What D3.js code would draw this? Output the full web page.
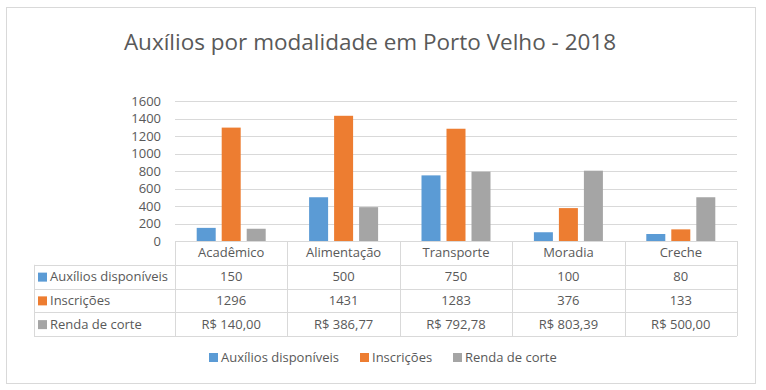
<!DOCTYPE html>
<html>
<head>
<meta charset="utf-8">
<script src="https://cdn.jsdelivr.net/npm/d3@7"></script>
<style>
  body { margin: 0; background: #fff; }
  text { font-family: "Open Sans", sans-serif; fill: #595959; }
</style>
</head>
<body>
<div id="chart"></div>
<script>
var width = 766
var height = 390

var categories = ["Acadêmico", "Alimentação", "Transporte", "Moradia", "Creche"]
var seriesNames = ["Auxílios disponíveis", "Inscrições", "Renda de corte"]
var auxilios = [150, 500, 750, 100, 80]
var inscricoes = [1296, 1431, 1283, 376, 133]
var rendaCorte = [140.00, 386.77, 792.78, 803.39, 500.00]
var yTicks = [0, 200, 400, 600, 800, 1000, 1200, 1400, 1600]

var colors = ["#5B9BD5", "#ED7D31", "#A5A5A5"]
var gridColor = "#D9D9D9"

var seriesValues = [auxilios, inscricoes, rendaCorte]

function fmtCell(s, v) {
    if (s === 2) {
        return "R$ " + v.toFixed(2).replace(".", ",")
    }
    return String(v)
}

var svg = d3.select('#chart')
    .append('svg')
    .attr('width', width)
    .attr('height', height)

// outer frame
svg.append('rect')
    .attr('x', 6.5)
    .attr('y', 7.5)
    .attr('width', 749)
    .attr('height', 376)
    .attr('fill', 'white')
    .attr('stroke', gridColor)

svg.append('text')
    .attr('x', 370)
    .attr('y', 50)
    .attr('text-anchor', 'middle')
    .style('font-size', '22.5px')
    .text("Auxílios por modalidade em Porto Velho - 2018")

var x0 = d3.scaleBand()
    .domain(categories)
    .range([175, 737])

var x1 = d3.scaleBand()
    .domain(seriesNames)
    .range([-34.5, 34.5])
    .paddingInner(0.24)

var y = d3.scaleLinear()
    .domain([0, 1600])
    .range([241, 101])

// gridlines
svg.append('g')
    .selectAll('line')
    .data(yTicks)
    .enter()
    .append('line')
    .attr('x1', 175)
    .attr('x2', 737)
    .attr('y1', function (d) { return Math.round(y(d)) + 0.5 })
    .attr('y2', function (d) { return Math.round(y(d)) + 0.5 })
    .attr('stroke', gridColor)

var yAxis = svg.append('g')
    .attr('transform', 'translate(161,0)')
    .call(d3.axisLeft(y).tickValues(yTicks).tickFormat(d3.format("d")).tickSize(0).tickPadding(0))
yAxis.select('.domain').remove()
yAxis.selectAll('text')
    .style('font-size', '13px')
    .attr('fill', '#595959')
    .style('font-family', '"Open Sans", sans-serif')

// bars
var groups = svg.append('g')
    .selectAll('g')
    .data(categories)
    .enter()
    .append('g')
    .attr('transform', function (d) { return 'translate(' + (x0(d) + x0.bandwidth() / 2) + ',0)' })

groups.selectAll('rect')
    .data(function (d, i) {
        return seriesNames.map(function (s, j) { return { s: s, j: j, v: seriesValues[j][i] } })
    })
    .enter()
    .append('rect')
    .attr('x', function (d) { return x1(d.s) })
    .attr('y', function (d) { return y(d.v) })
    .attr('width', x1.bandwidth())
    .attr('height', function (d) { return y(0) - y(d.v) })
    .attr('fill', function (d) { return colors[d.j] })

// data table
var rowTop = 241
var rowH = 23.75
var tableLeft = 34
var tableRight = 737
var table = svg.append('g')

// horizontal lines
var hLines = [0, 1, 2, 3, 4]
table.selectAll('line.h')
    .data(hLines)
    .enter()
    .append('line')
    .attr('class', 'h')
    .attr('x1', function (d) { return d === 0 ? 175 : tableLeft })
    .attr('x2', tableRight)
    .attr('y1', function (d) { return Math.round(rowTop + d * rowH) + 0.5 })
    .attr('y2', function (d) { return Math.round(rowTop + d * rowH) + 0.5 })
    .attr('stroke', gridColor)

// vertical lines
var vX = [175].concat(categories.map(function (c) { return x0(c) + x0.bandwidth() }))
table.selectAll('line.v')
    .data(vX)
    .enter()
    .append('line')
    .attr('class', 'v')
    .attr('x1', function (d) { return Math.round(d) + 0.5 })
    .attr('x2', function (d) { return Math.round(d) + 0.5 })
    .attr('y1', rowTop)
    .attr('y2', rowTop + 4 * rowH)
    .attr('stroke', gridColor)
table.append('line')
    .attr('x1', tableLeft + 0.5)
    .attr('x2', tableLeft + 0.5)
    .attr('y1', rowTop + rowH)
    .attr('y2', rowTop + 4 * rowH)
    .attr('stroke', gridColor)

// header labels
table.selectAll('text.cat')
    .data(categories)
    .enter()
    .append('text')
    .attr('class', 'cat')
    .attr('x', function (d) { return x0(d) + x0.bandwidth() / 2 })
    .attr('y', rowTop + rowH / 2 + 4.5)
    .attr('text-anchor', 'middle')
    .style('font-size', '13px')
    .text(function (d) { return d })

// rows
seriesNames.forEach(function (s, j) {
    var cy = rowTop + (j + 1) * rowH + rowH / 2
    table.append('rect')
        .attr('x', 38)
        .attr('y', cy - 4)
        .attr('width', 9)
        .attr('height', 9)
        .attr('fill', colors[j])
    table.append('text')
        .attr('x', 50)
        .attr('y', cy + 4.5)
        .style('font-size', '13px')
        .text(s)
    table.selectAll('text.r' + j)
        .data(seriesValues[j])
        .enter()
        .append('text')
        .attr('x', function (d, i) { return x0(categories[i]) + x0.bandwidth() / 2 })
        .attr('y', cy + 4.5)
        .attr('text-anchor', 'middle')
        .style('font-size', '13px')
        .text(function (d) { return fmtCell(j, d) })
})

// legend
var legendX = [209, 360, 453]
var legend = svg.append('g')
seriesNames.forEach(function (s, j) {
    legend.append('rect')
        .attr('x', legendX[j])
        .attr('y', 353)
        .attr('width', 9)
        .attr('height', 9)
        .attr('fill', colors[j])
    legend.append('text')
        .attr('x', legendX[j] + 12)
        .attr('y', 362)
        .style('font-size', '13px')
        .text(s)
})
</script>
</body>
</html>
